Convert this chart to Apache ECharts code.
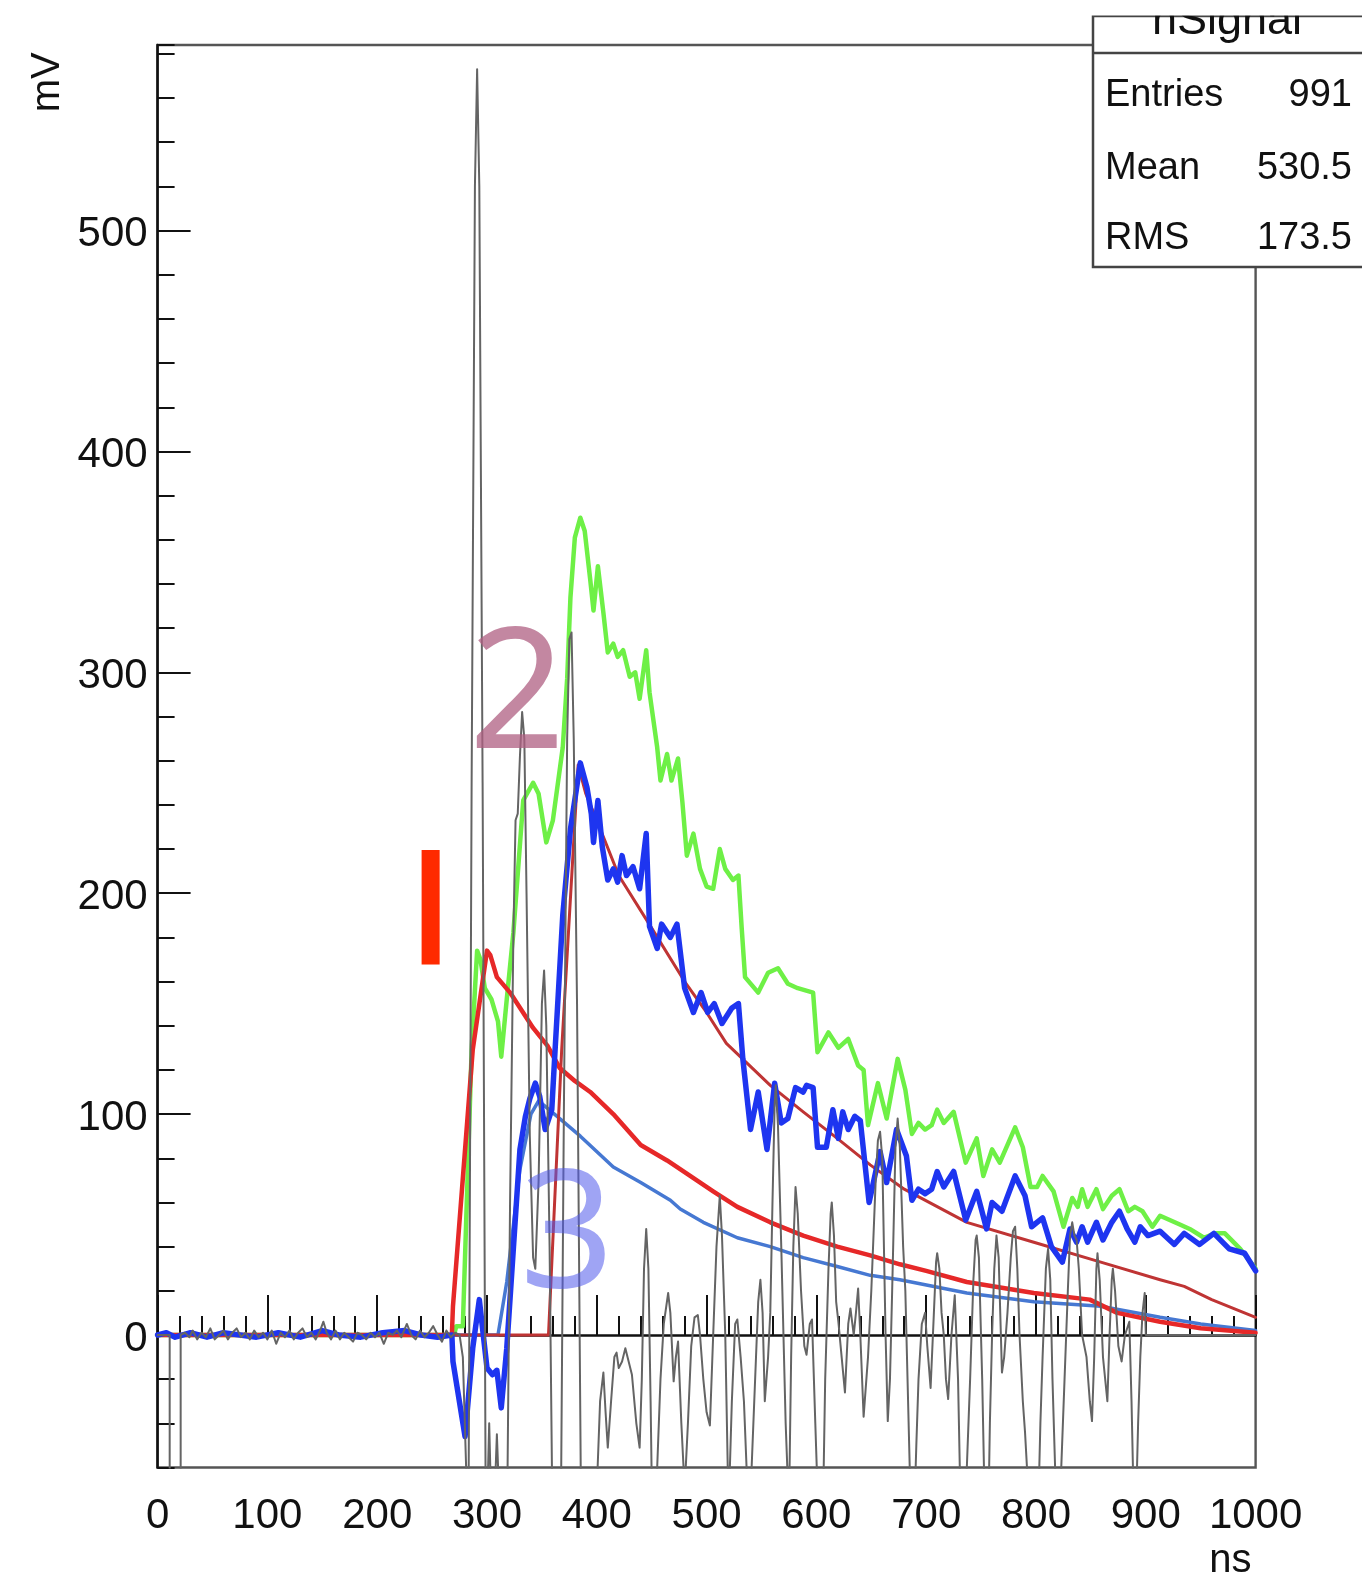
<!DOCTYPE html>
<html><head><meta charset="utf-8">
<script src="https://cdn.jsdelivr.net/npm/echarts@6.0.0/dist/echarts.min.js"></script>
<style>html,body{margin:0;padding:0;background:#fff}#c{width:1362px;height:1574px}</style>
</head><body><div id="c"></div>
<script>
// ---- data (ns, mV) ----
const xTickValues = [0,100,200,300,400,500,600,700,800,900,1000];
const yTickLabels = [0,100,200,300,400,500];
const xAxisTitle = 'ns';
const yAxisTitle = 'mV';
const statsTitle = 'hSignal';
const statsNames = ['Entries','Mean','RMS'];
const statsValues = ['991','530.5','173.5'];
const annotationTexts = ['I','2','3'];

const graySignal = [[0,0],[11,0],[11,-100],[21,-100],[21,0],[25,1],[29,-1],[32,2],[36,-2],[40,1],[44,-1],[48,3],[52,-2],[56,0],[60,2],[64,-2],[68,1],[72,3],[76,-1],[80,1],[84,-2],[88,2],[92,-1],[96,1],[100,-2],[104,2],[108,-4],[112,1],[116,-1],[120,2],[124,-2],[128,1],[132,3],[136,-1],[140,1],[144,-2],[148,2],[151,6],[154,1],[158,-2],[162,2],[166,-2],[170,1],[174,-1],[178,-3],[182,1],[186,0],[190,-2],[194,1],[198,-1],[202,1],[206,-4],[210,1],[214,0],[218,2],[222,-1],[227,5],[231,0],[235,-2],[239,2],[243,-1],[247,1],[251,4],[255,0],[259,-3],[263,2],[267,-1],[271,1],[275,0],
 [278,-10],[281,-60],[283,-100],[286,250],[289,520],[291,573],[293,520],[296,250],[299,-100],[302,-40],[305,-100],[309,-45],[313,-100],[318,-100],[321,60],[324,180],[326,233],[328,236],[330,262],[332,282],[334,270],[336,200],[339,90],[342,35],[344,30],[347,70],[350,150],[352,165],[354,140],[357,40],[360,-100],[367,-100],[370,100],[373,270],[375,315],[377,318],[379,270],[382,150],[386,-100],
 [397,-100],[400,-70],[403,-30],[406,-17],[408,-35],[410,-51],[413,-30],[416,-10],[418,-8],[420,-15],[423,-12],[426,-6],[429,-12],[432,-18],[436,-40],[439,-51],[441,-20],[443,30],[445,48],[447,30],[449,-30],[451,-100],[455,-60],[458,-20],[461,5],[465,19],[467,10],[470,-21],[472,-10],[474,-3],[477,-40],[480,-70],[483,-40],[486,-5],[489,8],[492,9],[494,0],[497,-20],[500,-35],[503,-41],[506,0],[509,40],[512,63],[514,45],[517,0],[520,-80],[523,-30],[526,5],[528,7],[531,-10],[534,-30],[538,-80],[541,-60],[545,-10],[547,15],[549,25],[551,10],[553,-30],[556,-10],[558,10],[560,60],[562,105],[563,113],[565,95],[568,40],[572,-40],[575,-80],[577,-10],[579,40],[581,67],[583,55],[586,20],[589,-5],[591,-9],[594,5],[596,7],[599,-40],[601,-70],[606,-80],[608,-20],[611,30],[613,55],[614,60],[616,45],[618,15],[620,6],[623,-10],[626,-26],[629,5],[631,12],[634,0],[636,10],[638,21],[640,0],[643,-37],[647,-10],[650,20],[654,70],[656,88],[658,92],[660,80],[663,0],[665,-39],[667,-20],[669,20],[672,85],[674,98],[676,85],[679,40],[681,20],[685,-60],[688,-100],[691,-50],[693,-20],[696,5],[699,10],[701,-5],[704,-24],[707,10],[709,33],[710,37],[712,30],[714,10],[716,0],[718,-20],[720,-29],[723,0],[726,18],[729,-20],[731,-70],[734,-100],[737,-60],[740,-20],[743,25],[745,43],[746,45],[748,35],[751,-20],[753,-70],[756,-100],[758,-40],[760,0],[762,30],[764,45],[766,35],[769,-17],[771,-10],[774,10],[777,35],[779,47],[781,49],[783,30],[785,0],[788,-30],[790,-44],[794,-80],[798,-100],[801,-100],[804,-40],[806,-10],[809,30],[811,39],[813,25],[815,-20],[818,-70],[820,-100],[823,-60],[826,-20],[829,20],[831,45],[833,51],[835,45],[837,43],[839,30],[842,0],[844,-5],[846,-10],[849,-30],[851,-39],[853,-10],[855,30],[856,37],[858,25],[861,-10],[865,-30],[867,0],[869,25],[870,30],[872,20],[875,-5],[878,-12],[881,0],[885,6],[887,-30],[890,-100],[893,-40],[895,-10],[897,10],[899,19],[900,0],[1000,0]];

const greenSignal = [[0,0],[270,0],[272,4],[278,4],[286,129],[291,174],[294,170],[298,157],[304,152],[310,142],[313,126],[318,152],[324,182],[333,242],[342,250],[347,245],[354,223],[360,233],[369,266],[373,297],[376,334],[380,361],[385,370],[389,364],[394,342],[397,328],[401,348],[406,327],[410,309],[415,313],[419,307],[424,310],[430,298],[435,300],[439,288],[445,310],[448,291],[455,266],[458,251],[464,263],[468,251],[474,261],[478,241],[482,217],[488,227],[494,211],[500,203],[506,202],[512,220],[517,211],[524,206],[529,208],[532,184],[535,162],[547,155],[556,164],[565,166],[574,159],[583,157],[597,155],[601,128],[611,137],[620,130],[629,134],[638,122],[643,120],[647,95],[656,114],[664,98],[674,125],[681,111],[687,91],[693,96],[699,93],[705,95],[710,102],[716,96],[725,101],[736,78],[746,89],[752,72],[760,84],[767,78],[781,94],[788,85],[795,67],[801,67],[806,72],[816,65],[825,49],[833,62],[838,58],[842,66],[847,58],[855,66],[861,57],[869,63],[876,66],[884,56],[890,58],[897,56],[906,49],[913,54],[931,50],[940,48],[953,44],[963,46],[972,46],[986,39],[1000,30]];

const blueSignal = [[0,0],[8,1],[16,-1],[30,1],[45,-1],[60,1],[75,0],[90,-1],[110,1],[130,-1],[150,2],[165,0],[185,-1],[205,1],[225,2],[240,0],[255,-1],[268,0],[269,-12],[280,-46],[287,-6],[293,16],[300,-15],[305,-18],[309,-16],[313,-33],[318,-6],[324,39],[330,84],[335,99],[339,107],[344,114],[348,108],[353,93],[359,102],[362,129],[369,190],[376,229],[385,259],[391,248],[395,236],[397,223],[401,242],[405,221],[410,206],[415,211],[419,205],[423,217],[427,208],[433,212],[439,202],[445,227],[448,185],[455,175],[459,186],[467,180],[473,186],[480,157],[488,146],[495,155],[501,146],[507,150],[514,141],[523,148],[529,150],[533,125],[540,93],[547,110],[555,84],[562,114],[568,96],[574,98],[581,112],[588,110],[591,113],[597,112],[601,85],[609,85],[615,102],[620,89],[624,101],[629,93],[635,99],[640,97],[648,60],[658,83],[664,69],[673,93],[682,81],[687,61],[693,66],[699,64],[705,66],[710,74],[716,67],[725,74],[736,52],[746,65],[755,48],[760,60],[769,56],[781,72],[790,63],[796,49],[806,53],[814,40],[824,33],[831,48],[837,42],[842,49],[847,42],[855,51],[861,43],[869,51],[876,56],[883,48],[890,42],[895,49],[902,45],[913,47],[926,41],[935,46],[949,41],[962,46],[976,39],[990,37],[1000,29]];

const redFit1 = [[0,0],[268,0],[269,13],[287,129],[300,174],[303,172],[309,162],[321,155],[342,139],[355,131],[366,121],[380,115],[394,110],[415,100],[440,86],[464,79],[482,73],[506,65],[528,58],[558,51],[588,45],[619,40],[649,36],[676,32],[700,29],[737,24],[798,19],[849,16],[874,10],[913,6],[950,3],[1000,1]];

const redFit2 = [[0,0],[356,0],[368,129],[383,258],[390,245],[400,233],[420,208],[449,185],[480,160],[500,146],[518,132],[558,113],[588,101],[619,89],[649,77],[680,66],[737,51],[798,42],[859,33],[913,25],[935,22],[960,16],[1000,8]];

const blueFit3 = [[0,0],[310,0],[318,24],[330,75],[340,100],[347,106],[359,101],[385,90],[415,76],[440,69],[467,61],[476,57],[497,51],[528,44],[558,40],[588,35],[619,31],[649,27],[676,25],[737,19],[798,15],[859,13],[913,8],[950,5],[1000,2]];

// ---- layout ----
const W = 1362, H = 1574;
const L = 157.6, R = 1255.6, T = 45, B = 1467.5;
const yMin = -60, yMax = 584;
const py0 = B - (0 - yMin) / (yMax - yMin) * (B - T);
const FONT = 'Liberation Sans, Arial, Helvetica, sans-serif';
const AFONT = 'Noto Sans, sans-serif';

const chart = echarts.init(document.getElementById('c'), null, {renderer: 'canvas', width: W, height: H});

function lineSeries(name, data, color, width, z) {
  return {name, type: 'line', data, xAxisIndex: 0, yAxisIndex: 0, showSymbol: false, symbol: 'none',
    smooth: false, clip: true, silent: true, z,
    lineStyle: {color, width, join: 'round', cap: 'round'}};
}

const statsBoxX = 1093, statsTop = 16, statsBottom = 267, statsSep = 53;
const statsRowsY = [95.7, 169, 239];

const option = {
  animation: false,
  backgroundColor: '#fff',
  grid: [
    {left: L, right: W - R, top: T, bottom: H - B, show: true, borderColor: '#555', borderWidth: 2.4, backgroundColor: 'transparent', outerBoundsMode: 'none', containLabel: false},
    {left: L, right: W - R, top: T, bottom: H - py0, show: false, outerBoundsMode: 'none', containLabel: false}
  ],
  xAxis: [
    {gridIndex: 0, type: 'value', min: 0, max: 1000, interval: 100,
     axisLine: {show: true, lineStyle: {color: '#111', width: 2.5}},
     axisTick: {show: true, inside: true, length: 40, lineStyle: {color: '#111', width: 2}},
     minorTick: {show: true, splitNumber: 5, length: 19, lineStyle: {color: '#111', width: 2}},
     splitLine: {show: false}, minorSplitLine: {show: false},
     axisLabel: {fontFamily: FONT, fontSize: 42, color: '#111', margin: 28,
       formatter: v => xTickValues.includes(v) ? String(v) : ''}},
    {gridIndex: 1, type: 'value', min: 0, max: 1000, show: false}
  ],
  yAxis: [
    {gridIndex: 0, type: 'value', min: yMin, max: yMax, interval: 20,
     axisLine: {show: true, lineStyle: {color: '#111', width: 2.5}},
     axisTick: {show: true, inside: true, length: 17, lineStyle: {color: '#111', width: 2}},
     axisLabel: {show: false}, splitLine: {show: false}},
    {gridIndex: 1, type: 'value', min: 0, max: yMax, interval: 100,
     axisLine: {show: false},
     axisTick: {show: true, inside: true, length: 33, lineStyle: {color: '#111', width: 2}},
     axisLabel: {fontFamily: FONT, fontSize: 42, color: '#111', margin: 10, showMaxLabel: false,
       verticalAlign: 'top', lineHeight: 8,
       formatter: v => yTickLabels.includes(v) ? String(v) : ''},
     splitLine: {show: false}}
  ],
  series: [
    lineSeries('green', greenSignal, '#6ef046', 4.5, 3),
    lineSeries('blueFit3', blueFit3, '#4678d2', 3.5, 4),
    lineSeries('redFit2', redFit2, '#bf3434', 3, 5),
    lineSeries('redFit1', redFit1, '#e62828', 4.5, 6),
    lineSeries('blue', blueSignal, '#1e35f0', 5.5, 7),
    lineSeries('gray', graySignal, '#646464', 2, 8)
  ],
  graphic: [
    // axis titles
    {type: 'text', z: 50, rotation: Math.PI / 2, x: 48.3, y: 82.3,
     style: {text: yAxisTitle, font: '40px ' + FONT, fill: '#111', align: 'center', verticalAlign: 'middle'}},
    {type: 'text', z: 50, x: 1251.6, y: 1561,
     style: {text: xAxisTitle, font: '40px ' + FONT, fill: '#111', align: 'right', verticalAlign: 'middle'}},
    // stats box
    {type: 'rect', z: 100, shape: {x: statsBoxX, y: statsTop, width: W - statsBoxX + 20, height: statsBottom - statsTop},
     style: {fill: '#fff', stroke: '#444', lineWidth: 2.5}},
    {type: 'line', z: 101, shape: {x1: statsBoxX, y1: statsSep, x2: W + 5, y2: statsSep}, style: {stroke: '#444', lineWidth: 2.5}},
    {type: 'text', z: 101, x: 1227, y: 21.5,
     style: {text: statsTitle, font: '45px ' + FONT, fill: '#111', align: 'center', verticalAlign: 'middle'}},
    {type: 'rect', z: 102, shape: {x: statsBoxX - 10, y: -5, width: W, height: statsTop + 4.5}, style: {fill: '#fff'}},
    ...statsNames.map((n, i) => ({type: 'text', z: 103, x: 1105, y: statsRowsY[i],
      style: {text: n, font: '38px ' + FONT, fill: '#111', align: 'left', verticalAlign: 'middle'}})),
    ...statsValues.map((v, i) => ({type: 'text', z: 103, x: 1352, y: statsRowsY[i],
      style: {text: v, font: '38px ' + FONT, fill: '#111', align: 'right', verticalAlign: 'middle'}})),
    // annotations
    {type: 'text', z: 120, x: 430.5, y: 919,
     style: {text: annotationTexts[0], font: '161px ' + FONT, fill: '#ff2a00', stroke: '#ff2a00', lineWidth: 3, align: 'center', verticalAlign: 'middle'}},
    {type: 'text', z: 120, x: 517, y: 700,
     style: {text: annotationTexts[1], font: '169px ' + AFONT, fill: 'rgba(175,95,130,0.75)', align: 'center', verticalAlign: 'middle'}},
    {type: 'text', z: 120, x: 567, y: 1240,
     style: {text: annotationTexts[2], font: '165px ' + AFONT, fill: 'rgba(80,90,235,0.55)', align: 'center', verticalAlign: 'middle'}}
  ]
};
chart.setOption(option);
</script></body></html>
